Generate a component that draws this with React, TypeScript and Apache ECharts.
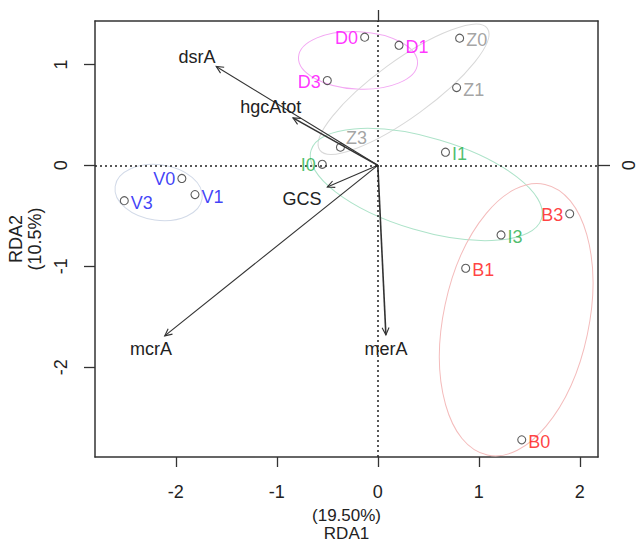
import React, { useEffect, useRef } from "react";
import * as echarts from "echarts";

// ---- data ----
const sampleNames = ["D0", "D1", "D3", "Z0", "Z1", "Z3", "I0", "I1", "I3", "B0", "B1", "B3", "V0", "V1", "V3"];
const sampleX = [-0.13, 0.21, -0.5, 0.81, 0.78, -0.37, -0.55, 0.67, 1.22, 1.425, 0.87, 1.9, -1.94, -1.81, -2.51];
const sampleY = [1.27, 1.19, 0.84, 1.26, 0.77, 0.18, 0.01, 0.13, -0.69, -2.72, -1.02, -0.48, -0.13, -0.29, -0.35];
const sampleGroup = ["D", "D", "D", "Z", "Z", "Z", "I", "I", "I", "B", "B", "B", "V", "V", "V"];

const groupNames = ["D", "Z", "I", "B", "V"];
const ellipseCX = [-0.196, 0.255, 0.48, 1.37, -2.17];
const ellipseCY = [1.04, 0.754, -0.19, -1.53, -0.27];
const ellipseA = [0.59, 1.025, 1.19, 1.37, 0.435];
const ellipseB = [0.285, 0.28, 0.46, 0.72, 0.275];
const ellipseAngle = [-3, 36, -16.5, 78, -8];

const envNames = ["dsrA", "hgcAtot", "GCS", "mcrA", "merA"];
const envX = [-1.6, -0.84, -0.5, -2.11, 0.08];
const envY = [0.98, 0.47, -0.215, -1.69, -1.68];
const envLabelX = [-1.79, -1.06, -0.75, -2.245, 0.08];
const envLabelY = [1.07, 0.575, -0.33, -1.82, -1.82];

const xTicks = [-2, -1, 0, 1, 2];
const yTicks = [-2, -1, 0, 1];

// ---- styles ----
const FONT = "'Liberation Sans', Arial, sans-serif";
const labelColor: Record<string, string> = {
  D: "#ff00ff",
  Z: "#8c8c8c",
  I: "#1fae4a",
  B: "#ff1010",
  V: "#0f0ff5",
};
const ellipseColor: Record<string, string> = {
  D: "#f3a8f3",
  Z: "#d8d8d8",
  I: "#ade3c9",
  B: "#f4bcbc",
  V: "#d2dae8",
};
const labelSide: Record<string, string> = {
  D0: "left", D1: "right", D3: "left",
  Z0: "right", Z1: "right", Z3: "top",
  I0: "left", I1: "right", I3: "right",
  B0: "right", B1: "right", B3: "left",
  V0: "left", V1: "right", V3: "right",
};

export default function App() {
  const ref = useRef<HTMLDivElement>(null);
  useEffect(() => {
    if (!ref.current) return;
    const chart = echarts.init(ref.current, null, { renderer: "svg" });

    const scatterSeries = groupNames.map((g, gi) => {
      const data: any[] = [];
      sampleNames.forEach((n, i) => {
        if (sampleGroup[i] !== g) return;
        const side = labelSide[n];
        data.push({
          name: n,
          value: [sampleX[i], sampleY[i]],
          label: {
            position: side,
            distance: 2,
            offset: side === "top" ? [16, 6] : side === "right" ? [0, 2] : [0, 1],
          },
        });
      });
      const s: any = {
        type: "scatter",
        z: 5,
        data,
        symbol: "circle",
        symbolSize: 8,
        itemStyle: { color: "rgba(255,255,255,0)", borderColor: "#333", borderWidth: 1.1 },
        label: {
          show: true,
          formatter: "{b}",
          color: labelColor[g],
          fontSize: 18,
          fontFamily: FONT,
        },
        silent: true,
      };
      if (gi === 0) {
        s.markLine = {
          silent: true,
          symbol: ["none", "none"],
          label: { show: false },
          lineStyle: { type: [2, 3], color: "#222", width: 1.5 },
          data: [{ xAxis: 0 }, { yAxis: 0 }],
        };
      }
      return s;
    });

    const ellipseSeries = {
      type: "custom",
      z: 2,
      silent: true,
      data: groupNames.map((g, i) => [ellipseCX[i], ellipseCY[i], ellipseA[i], ellipseB[i], ellipseAngle[i]]),
      encode: { x: 0, y: 1 },
      renderItem: (params: any, api: any) => {
        const c = api.coord([api.value(0), api.value(1)]);
        const s = api.size([api.value(2), api.value(3)]);
        const g = groupNames[params.dataIndex];
        return {
          type: "ellipse",
          x: c[0],
          y: c[1],
          rotation: (api.value(4) * Math.PI) / 180,
          shape: { cx: 0, cy: 0, rx: s[0], ry: s[1] },
          style: { fill: "none", stroke: ellipseColor[g], lineWidth: 1 },
        };
      },
    };

    const arrowSeries = {
      type: "custom",
      z: 4,
      silent: true,
      data: envNames.map((n, i) => [envX[i], envY[i], envLabelX[i], envLabelY[i]]),
      encode: { x: 0, y: 1 },
      renderItem: (params: any, api: any) => {
        const o = api.coord([0, 0]);
        const t = api.coord([api.value(0), api.value(1)]);
        const l = api.coord([api.value(2), api.value(3)]);
        const ang = Math.atan2(t[1] - o[1], t[0] - o[0]);
        const h = 8;
        const w = Math.PI / 7;
        const p1 = [t[0] - h * Math.cos(ang - w), t[1] - h * Math.sin(ang - w)];
        const p2 = [t[0] - h * Math.cos(ang + w), t[1] - h * Math.sin(ang + w)];
        const name = envNames[params.dataIndex];
        const lw = name === "hgcAtot" || name === "merA" ? 1.6 : 1.1;
        return {
          type: "group",
          children: [
            { type: "line", shape: { x1: o[0], y1: o[1], x2: t[0], y2: t[1] }, style: { stroke: "#333", lineWidth: lw } },
            { type: "polyline", shape: { points: [p1, t, p2] }, style: { stroke: "#333", fill: "none", lineWidth: 1.1 } },
            {
              type: "text",
              x: l[0],
              y: l[1],
              style: {
                text: name,
                fontSize: 18,
                fontFamily: FONT,
                fill: "#222",
                align: "center",
                verticalAlign: "middle",
              },
            },
          ],
        };
      },
    };

    const axisLine = { show: true, onZero: false, lineStyle: { color: "#333", width: 1.5 } };
    const tickStyle = { color: "#333", width: 1.3 };
    const labelText = { color: "#222", fontSize: 18, fontFamily: FONT };

    chart.setOption({
      animation: false,
      backgroundColor: "#fff",
      grid: { left: 95, right: 41, top: 21, bottom: 86, containLabel: false, outerBoundsMode: "none" },
      xAxis: [
        {
          type: "value",
          position: "bottom",
          min: -2.8,
          max: 2.18,
          axisLine,
          splitLine: { show: false },
          axisTick: { show: true, inside: false, length: 10, lineStyle: tickStyle, customValues: xTicks },
          axisLabel: { ...labelText, margin: 26, customValues: xTicks, formatter: (v: number) => String(v) },
          name: "(19.50%)\nRDA1",
          nameLocation: "middle",
          nameGap: 49.5,
          nameTextStyle: { color: "#222", fontSize: 17, fontFamily: FONT, lineHeight: 18 },
        },
        {
          type: "value",
          position: "top",
          min: -2.8,
          max: 2.18,
          axisLine,
          splitLine: { show: false },
          axisTick: { show: true, inside: false, length: 11, lineStyle: tickStyle, customValues: [0] },
          axisLabel: { show: false },
        },
      ],
      yAxis: [
        {
          type: "value",
          position: "left",
          min: -2.89,
          max: 1.43,
          axisLine,
          splitLine: { show: false },
          axisTick: { show: true, inside: false, length: 11, lineStyle: tickStyle, customValues: yTicks },
          axisLabel: { ...labelText, margin: 25, rotate: 90, customValues: yTicks, formatter: (v: number) => String(v) },
          name: "RDA2\n(10.5%)",
          nameLocation: "middle",
          nameRotate: 90,
          nameGap: 51,
          nameTextStyle: { color: "#222", fontSize: 18, fontFamily: FONT, lineHeight: 19 },
        },
        {
          type: "value",
          position: "right",
          min: -2.89,
          max: 1.43,
          axisLine,
          splitLine: { show: false },
          axisTick: { show: true, inside: false, length: 12, lineStyle: tickStyle, customValues: [0] },
          axisLabel: { ...labelText, margin: 22, rotate: 90, customValues: [0], formatter: (v: number) => String(v) },
        },
      ],
      series: [ellipseSeries, arrowSeries, ...scatterSeries],
    });
    return () => chart.dispose();
  }, []);
  return <div ref={ref} style={{ position: "fixed", left: 0, top: 0, width: 639, height: 543 }} />;
}
